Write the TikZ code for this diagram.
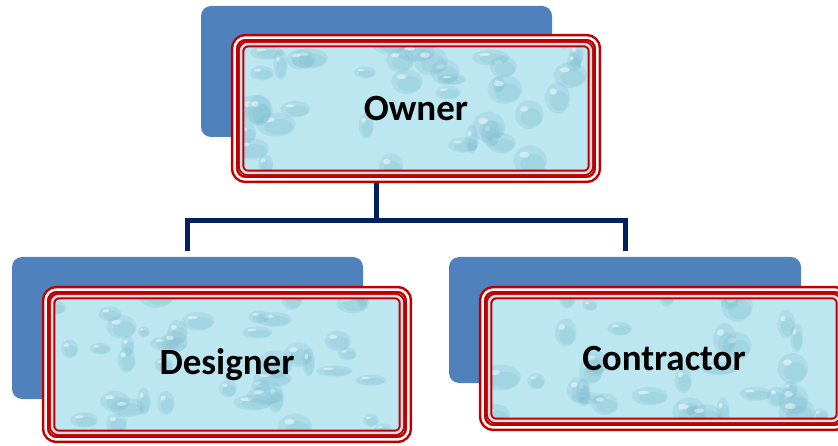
\documentclass[tikz,border=0pt]{standalone}
\usepackage{fontspec}
\setsansfont{Carlito}
\definecolor{backblue}{RGB}{79,129,189}
\definecolor{ringred}{RGB}{192,0,0}
\definecolor{aqua}{RGB}{188,230,240}
\definecolor{drop}{RGB}{120,185,205}
\definecolor{silver}{RGB}{205,224,230}
\definecolor{navy}{RGB}{0,32,96}

% scattered water droplets inside a panel
\newcommand{\dropletfield}[1]{%
  \pgfmathsetseed{#1}%
  \foreach \k in {1,...,42}{%
    \pgfmathsetmacro{\dx}{rnd*360}%
    \pgfmathsetmacro{\dy}{rnd*140}%
    \pgfmathsetmacro{\rx}{6+rnd*14}%
    \pgfmathsetmacro{\ry}{5+rnd*11}%
    \fill[drop, opacity=0.22]
      ([shift={(\dx,\dy)}]path picture bounding box.south west) ellipse ({\rx} and {\ry});
    \fill[drop, opacity=0.2]
      ([shift={(\dx+0.15*\rx,\dy-0.2*\ry)}]path picture bounding box.south west)
      ellipse ({0.75*\rx} and {0.65*\ry});
    \fill[white, opacity=0.45]
      ([shift={(\dx-0.35*\rx,\dy+0.4*\ry)}]path picture bounding box.south west)
      ellipse ({0.3*\rx} and {0.2*\ry});
  }}

\tikzset{
  backbox/.style={fill=backblue, rounded corners=10pt, inner sep=0pt},
  frontbox/.style={fill=aqua, rounded corners=5pt, inner sep=0pt,
    font=\sffamily\bfseries\fontsize{37}{44}\selectfont,
    path picture={\dropletfield{#1}}},
  ringout/.style={draw=ringred, double=white, line width=2.5pt,
    double distance=2.5pt, rounded corners=11pt},
  ringin/.style={draw=ringred, double=silver, line width=2pt,
    double distance=2.5pt, rounded corners=7pt},
  conn/.style={draw=navy, line width=5pt, line join=miter}
}

\begin{document}
\begin{tikzpicture}[x=1pt,y=1pt]
\useasboundingbox (0,0) rectangle (838,445);
\clip (0,0) rectangle (838,445);

% blue back plates
\node[backbox, minimum width=351pt, minimum height=131pt] (ownerback) at (376.5,373.5) {};
\node[backbox, minimum width=351pt, minimum height=142pt] (designerback) at (187.5,117) {};
\node[backbox, minimum width=352pt, minimum height=126pt] (contractorback) at (625,125) {};

% tree connectors
\coordinate (bus) at (376.5,224);
\draw[conn] (ownerback.south) -- (ownerback.south |- bus) -| ([yshift=6pt]designerback.north);
\draw[conn] (ownerback.south |- bus) -| ([yshift=6pt]contractorback.north);

% front panels
\node[frontbox=3, minimum width=344pt, minimum height=123pt] (owner) at (416,336.5) {Owner};
\node[frontbox=11, minimum width=344pt, minimum height=131pt] (designer) at (227,80.5) {Designer};
\node[frontbox=17, minimum width=344pt, minimum height=119pt] (contractor) at (664,86.5) {Contractor};

% triple red frames
\foreach \n in {owner,designer,contractor}{
  \draw[ringout] ([shift={(-9.25,9.25)}]\n.north west) rectangle ([shift={(9.25,-9.25)}]\n.south east);
  \draw[ringin] ([shift={(-2.75,2.75)}]\n.north west) rectangle ([shift={(2.75,-2.75)}]\n.south east);
}
\end{tikzpicture}
\end{document}
